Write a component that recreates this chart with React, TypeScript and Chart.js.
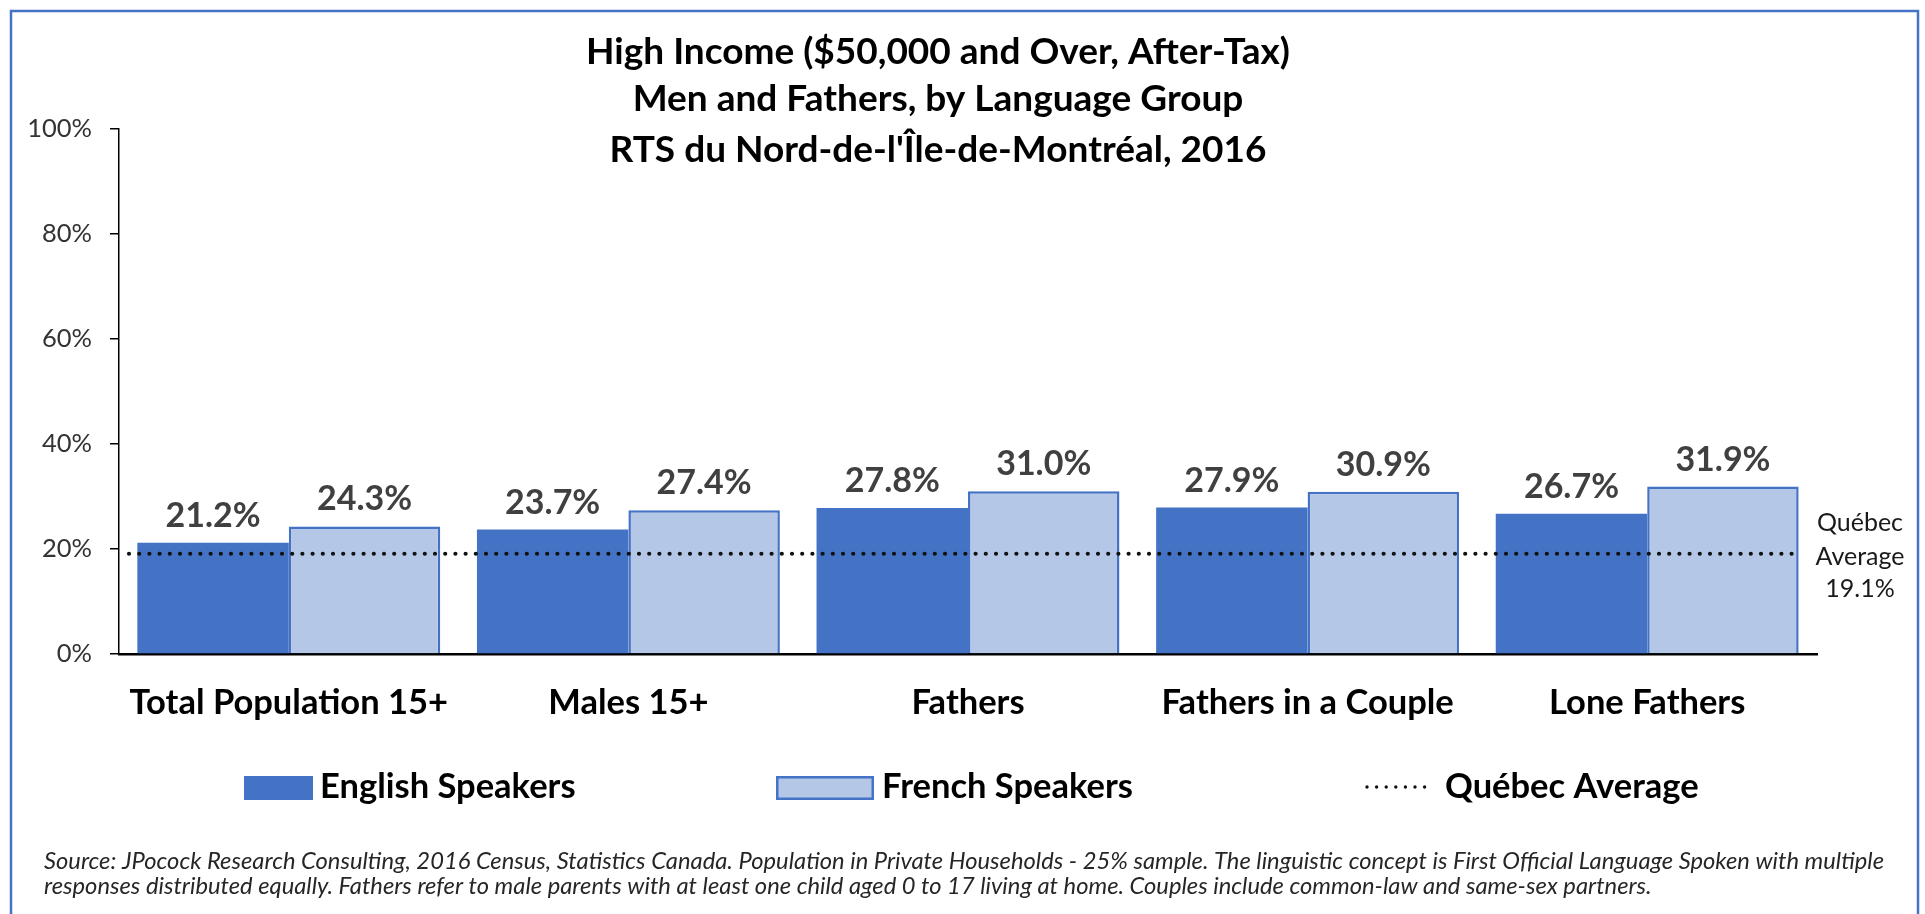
import React, { useEffect, useRef } from 'react';
import { Chart, registerables } from 'chart.js';

Chart.register(...registerables);

const TITLE_LINES = [
  'High Income ($50,000 and Over, After-Tax)',
  'Men and Fathers, by Language Group',
  "RTS du Nord-de-l'Île-de-Montréal, 2016",
];
const CATEGORIES = ['Total Population 15+', 'Males 15+', 'Fathers', 'Fathers in a Couple', 'Lone Fathers'];
const ENGLISH = [21.2, 23.7, 27.8, 27.9, 26.7];
const FRENCH = [24.3, 27.4, 31.0, 30.9, 31.9];
const QUEBEC_AVG = 19.1;
const SERIES_NAMES = ['English Speakers', 'French Speakers', 'Québec Average'];
const Y_MIN = 0;
const Y_MAX = 100;
const Y_STEP = 20;
const SOURCE_LINES = [
  'Source: JPocock Research Consulting, 2016 Census, Statistics Canada. Population in Private Households - 25% sample. The linguistic concept is First Official Language Spoken with multiple',
  'responses distributed equally. Fathers refer to male parents with at least one child aged 0 to 17 living at home. Couples include common-law and same-sex partners.',
];

const FONT = 'Lato, "Noto Sans", sans-serif';
const DARK_BLUE = '#4472C4';
const LIGHT_BLUE = '#B4C7E7';

const pct = (v: number) => `${v.toFixed(1)}%`;

const decorPlugin = {
  id: 'decor',
  beforeDraw(chart: any) {
    const { ctx, width, height } = chart;
    ctx.save();
    ctx.fillStyle = '#ffffff';
    ctx.fillRect(0, 0, width, height);
    ctx.strokeStyle = DARK_BLUE;
    ctx.lineWidth = 2.5;
    ctx.strokeRect(11, 11, 1907, height + 30);

    // title
    ctx.fillStyle = '#000';
    ctx.font = `bold 37px ${FONT}`;
    ctx.textAlign = 'center';
    ctx.textBaseline = 'alphabetic';
    const baselines = [64, 111, 162];
    TITLE_LINES.forEach((t, i) => ctx.fillText(t, 938, baselines[i]));
    ctx.restore();
  },
  afterDatasetsDraw(chart: any) {
    const { ctx, chartArea } = chart;
    const yScale = chart.scales.y;
    const py = yScale.getPixelForValue(QUEBEC_AVG);
    ctx.save();
    // dotted average line
    ctx.strokeStyle = '#111';
    ctx.lineWidth = 4.2;
    ctx.lineCap = 'round';
    ctx.setLineDash([0, 10.2]);
    ctx.beginPath();
    ctx.moveTo(chartArea.left + 10, py);
    ctx.lineTo(chartArea.right - 16, py);
    ctx.stroke();
    ctx.setLineDash([]);

    // data labels
    ctx.fillStyle = '#404040';
    ctx.font = `bold 34px ${FONT}`;
    ctx.textAlign = 'center';
    ctx.textBaseline = 'alphabetic';
    chart.data.datasets.forEach((ds: any, di: number) => {
      const meta = chart.getDatasetMeta(di);
      meta.data.forEach((bar: any, i: number) => {
        ctx.fillText(pct(ds.data[i]), bar.x, bar.y - 16);
      });
    });

    // right annotation
    ctx.fillStyle = '#1a1a1a';
    ctx.font = `25px ${FONT}`;
    const words = SERIES_NAMES[2].split(' ');
    const ann = [words[0], words[1], pct(QUEBEC_AVG)];
    ctx.textBaseline = 'middle';
    const offs = [-31, 3, 35];
    ann.forEach((t, i) => ctx.fillText(t, 1860, py + offs[i]));
    ctx.restore();
  },
  afterDraw(chart: any) {
    const { ctx } = chart;
    ctx.save();
    // legend
    const ly = 787;
    ctx.font = `bold 34.5px ${FONT}`;
    ctx.fillStyle = '#000';
    ctx.textAlign = 'left';
    ctx.textBaseline = 'middle';
    // English
    ctx.fillStyle = DARK_BLUE;
    ctx.fillRect(244, 776, 69, 24);
    ctx.fillStyle = '#000';
    ctx.fillText(SERIES_NAMES[0], 320, ly);
    // French
    ctx.fillStyle = LIGHT_BLUE;
    ctx.fillRect(776, 776, 98, 24);
    ctx.strokeStyle = DARK_BLUE;
    ctx.lineWidth = 2.5;
    ctx.strokeRect(777.25, 777.25, 95.5, 21.5);
    ctx.fillStyle = '#000';
    ctx.fillText(SERIES_NAMES[1], 882, ly);
    // Quebec
    ctx.strokeStyle = '#111';
    ctx.lineWidth = 3.4;
    ctx.lineCap = 'round';
    ctx.setLineDash([0, 9.6]);
    ctx.beginPath();
    ctx.moveTo(1367, ly);
    ctx.lineTo(1430, ly);
    ctx.stroke();
    ctx.setLineDash([]);
    ctx.fillText(SERIES_NAMES[2], 1445, ly);

    // source (condensed italic, fitted to the frame width)
    ctx.fillStyle = '#262626';
    const size = 23.5;
    ctx.font = `italic ${size}px ${FONT}`;
    const w = ctx.measureText(SOURCE_LINES[0]).width;
    const left = 44;
    const target = 1840;
    const sx = target / w;
    ctx.textBaseline = 'alphabetic';
    const bases = [869, 894];
    SOURCE_LINES.forEach((t, i) => {
      ctx.save();
      ctx.translate(left, bases[i]);
      ctx.scale(sx, 1);
      ctx.fillText(t, 0, 0);
      ctx.restore();
    });
    ctx.restore();
  },
};

export default function App() {
  const ref = useRef<HTMLCanvasElement | null>(null);
  useEffect(() => {
    if (!ref.current) return;
    const chart = new Chart(ref.current, {
      type: 'bar',
      data: {
        labels: CATEGORIES,
        datasets: [
          {
            label: SERIES_NAMES[0],
            data: ENGLISH,
            backgroundColor: DARK_BLUE,
            borderWidth: 0,
            categoryPercentage: 0.892,
            barPercentage: 1,
          },
          {
            label: SERIES_NAMES[1],
            data: FRENCH,
            backgroundColor: LIGHT_BLUE,
            borderColor: DARK_BLUE,
            borderWidth: 2.5,
            borderSkipped: 'bottom',
            categoryPercentage: 0.892,
            barPercentage: 1,
          },
        ],
      },
      options: {
        responsive: false,
        animation: false,
        layout: { padding: { left: 0, right: 108, top: 129, bottom: 160 } },
        plugins: {
          legend: { display: false },
          title: { display: false },
          tooltip: { enabled: false },
        },
        scales: {
          x: {
            grid: { display: false, drawTicks: false },
            border: { display: true, color: '#000', width: 2.5 },
            ticks: {
              font: { family: FONT, size: 34.5, weight: 'bold' },
              color: '#000',
              padding: 28,
              maxRotation: 0,
              autoSkip: false,
            },
            afterFit: (s: any) => {
              s.height = 100;
            },
          },
          y: {
            min: Y_MIN,
            max: Y_MAX,
            ticks: {
              stepSize: Y_STEP,
              callback: (v: any) => `${v}%`,
              font: { family: FONT, size: 25.5 },
              color: '#333',
              padding: 18,
            },
            grid: { drawOnChartArea: false, drawTicks: true, tickLength: 9, color: '#000', lineWidth: 1.5 },
            border: { display: true, color: '#000', width: 1.5 },
            afterFit: (s: any) => {
              s.width = 119;
            },
          },
        },
      },
      plugins: [decorPlugin],
    } as any);
    return () => chart.destroy();
  }, []);
  return (
    <div style={{ position: 'absolute', left: 0, top: 0, width: 1925, height: 914, overflow: 'hidden' }}>
      <canvas ref={ref} width={1925} height={914} style={{ width: 1925, height: 914, display: 'block' }} />
    </div>
  );
}
